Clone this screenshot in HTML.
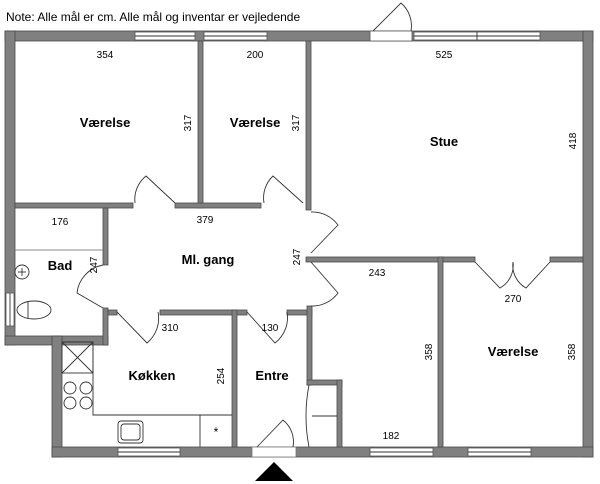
<!DOCTYPE html>
<html><head><meta charset="utf-8"><style>
html,body{margin:0;padding:0;background:#fff;}
svg{display:block;}
text{font-family:"Liberation Sans",sans-serif;fill:#000;}
.w{fill:#808080;stroke:#4a4a4a;stroke-width:0.8;}
.win{fill:#fff;stroke:#555;stroke-width:0.8;}
.l{fill:none;stroke:#333;stroke-width:0.9;}
.t{font-size:10px;text-anchor:middle;}
.b{font-size:13px;font-weight:bold;text-anchor:middle;}
</style></head><body>
<svg width="600" height="484" viewBox="0 0 600 484">
<text x="6" y="21" style="font-size:12px">Note: Alle mål er cm. Alle mål og inventar er vejledende</text>
<!-- outer walls -->
<rect class="w" x="5" y="31" width="588" height="10"/>
<rect class="w" x="5" y="31" width="10" height="314"/>
<rect class="w" x="583" y="31" width="10" height="426"/>
<rect class="w" x="5" y="336" width="103" height="9"/>
<rect class="w" x="52" y="336" width="10" height="121"/>
<rect class="w" x="52" y="447" width="541" height="10"/>
<!-- top windows -->
<rect class="win" x="135" y="32" width="60" height="8"/><line class="l" x1="135" y1="36" x2="195" y2="36"/>
<rect class="win" x="204" y="32" width="63" height="8"/><line class="l" x1="204" y1="36" x2="267" y2="36"/>
<rect class="win" x="414" y="32" width="126" height="8"/><line class="l" x1="414" y1="36" x2="540" y2="36"/><line class="l" x1="477" y1="32" x2="477" y2="40"/>
<rect x="370" y="31" width="42" height="10" fill="#fff" stroke="#555" stroke-width="0.8"/>
<path class="l" d="M373 31 L401 3 A30 30 0 0 1 411 31"/>
<!-- left window -->
<rect class="win" x="6" y="293" width="8" height="33"/><line class="l" x1="10" y1="293" x2="10" y2="326"/>
<!-- bottom windows -->
<rect class="win" x="118" y="448" width="62" height="8"/><line class="l" x1="118" y1="452" x2="180" y2="452"/>
<rect class="win" x="370" y="448" width="63" height="8"/><line class="l" x1="370" y1="452" x2="433" y2="452"/>
<rect class="win" x="468" y="448" width="63" height="8"/><line class="l" x1="468" y1="452" x2="531" y2="452"/>
<rect x="252" y="447" width="44" height="10" fill="#fff" stroke="#777" stroke-width="0.8"/>
<path class="l" d="M257 447 L283 420 A28 28 0 0 1 293 447"/>
<polygon points="255,481 293,481 274,462" fill="#000"/>
<!-- interior walls -->
<rect class="w" x="198" y="41" width="5" height="167"/>
<rect class="w" x="306" y="41" width="5" height="169"/>
<rect class="w" x="15" y="203" width="118" height="5"/>
<rect class="w" x="175" y="203" width="86" height="5"/>
<rect class="w" x="103" y="208" width="5" height="57"/>
<rect class="w" x="103" y="308" width="5" height="37"/>
<rect class="w" x="108" y="310" width="9" height="5"/>
<rect class="w" x="160" y="310" width="87" height="5"/>
<rect class="w" x="232" y="310" width="5" height="137"/>
<rect class="w" x="287" y="310" width="25" height="5"/>
<rect class="w" x="307" y="306" width="5" height="79"/>
<rect class="w" x="307" y="380" width="35" height="5"/>
<rect class="w" x="337" y="380" width="5" height="67"/>
<rect class="w" x="306" y="257" width="169" height="5"/>
<rect class="w" x="550" y="257" width="33" height="5"/>
<rect class="w" x="438" y="257" width="5" height="190"/>
<!-- doors -->
<path class="l" d="M175 203 L146 176 A30 30 0 0 0 135 203"/>
<path class="l" d="M303 203 L273 176 A30 30 0 0 0 264 203"/>
<path class="l" d="M103 265 A32 32 0 0 0 77 293 L103 308"/>
<path class="l" d="M117 312 L147 343 A32 32 0 0 0 158 312"/>
<path class="l" d="M247 312 L275 343 A32 32 0 0 0 287 312"/>
<path class="l" d="M311 212 A32 32 0 0 1 338 225 L311 253"/>
<path class="l" d="M311 262 L338 293 A32 32 0 0 1 311 306"/>
<path class="l" d="M475 262 L500 288 A26 26 0 0 0 513 262 A26 26 0 0 0 526 288 L550 262"/>
<!-- bad fixtures -->
<line x1="15" y1="250" x2="103" y2="250" stroke="#888" stroke-width="1"/>
<circle cx="22" cy="272" r="7" class="l"/><line class="l" x1="22" y1="268" x2="22" y2="276"/><line class="l" x1="18" y1="272" x2="26" y2="272"/>
<ellipse cx="34" cy="310" rx="17" ry="9" class="l"/><line class="l" x1="28" y1="301" x2="28" y2="319"/>
<!-- kitchen fixtures -->
<path class="l" d="M62 342 H93 V415 H232"/>
<rect class="l" x="62" y="342" width="31" height="31"/><line class="l" x1="62" y1="342" x2="93" y2="373"/><line class="l" x1="93" y1="342" x2="62" y2="373"/>
<circle class="l" cx="70" cy="388" r="6"/><circle class="l" cx="86" cy="388" r="6"/>
<circle class="l" cx="70" cy="403" r="6"/><circle class="l" cx="86" cy="403" r="6"/>
<rect class="l" x="118" y="421" width="25" height="22" rx="3"/><rect class="l" x="121" y="424" width="19" height="16" rx="3"/>
<line class="l" x1="200" y1="415" x2="200" y2="447"/>
<text x="216" y="436" style="font-size:12px" text-anchor="middle">*</text>
<!-- cabinet in entre -->
<line class="l" x1="312" y1="416" x2="337" y2="416"/>
<path class="l" d="M309 385 Q303 416 309 447"/>
<!-- labels -->
<text class="t" x="105" y="58">354</text>
<text class="t" x="255" y="58">200</text>
<text class="t" x="444" y="58">525</text>
<text class="b" x="105" y="127">Værelse</text>
<text class="b" x="255" y="127">Værelse</text>
<text class="b" x="444" y="146">Stue</text>
<text class="t" transform="translate(191,123) rotate(-90)">317</text>
<text class="t" transform="translate(299,123) rotate(-90)">317</text>
<text class="t" transform="translate(576,141) rotate(-90)">418</text>
<text class="t" x="60" y="225">176</text>
<text class="t" x="205" y="223">379</text>
<text class="b" x="208" y="264">Ml. gang</text>
<text class="b" x="60" y="270">Bad</text>
<text class="t" transform="translate(97,265) rotate(-90)">247</text>
<text class="t" transform="translate(300,257) rotate(-90)">247</text>
<text class="t" x="170" y="331">310</text>
<text class="t" x="270" y="331">130</text>
<text class="b" x="152" y="380">Køkken</text>
<text class="t" transform="translate(224,376) rotate(-90)">254</text>
<text class="b" x="272" y="380">Entre</text>
<text class="t" x="377" y="276">243</text>
<text class="t" x="513" y="302">270</text>
<text class="t" transform="translate(432,352) rotate(-90)">358</text>
<text class="t" transform="translate(575,352) rotate(-90)">358</text>
<text class="b" x="513" y="356">Værelse</text>
<text class="t" x="391" y="439">182</text>
</svg>
</body></html>
